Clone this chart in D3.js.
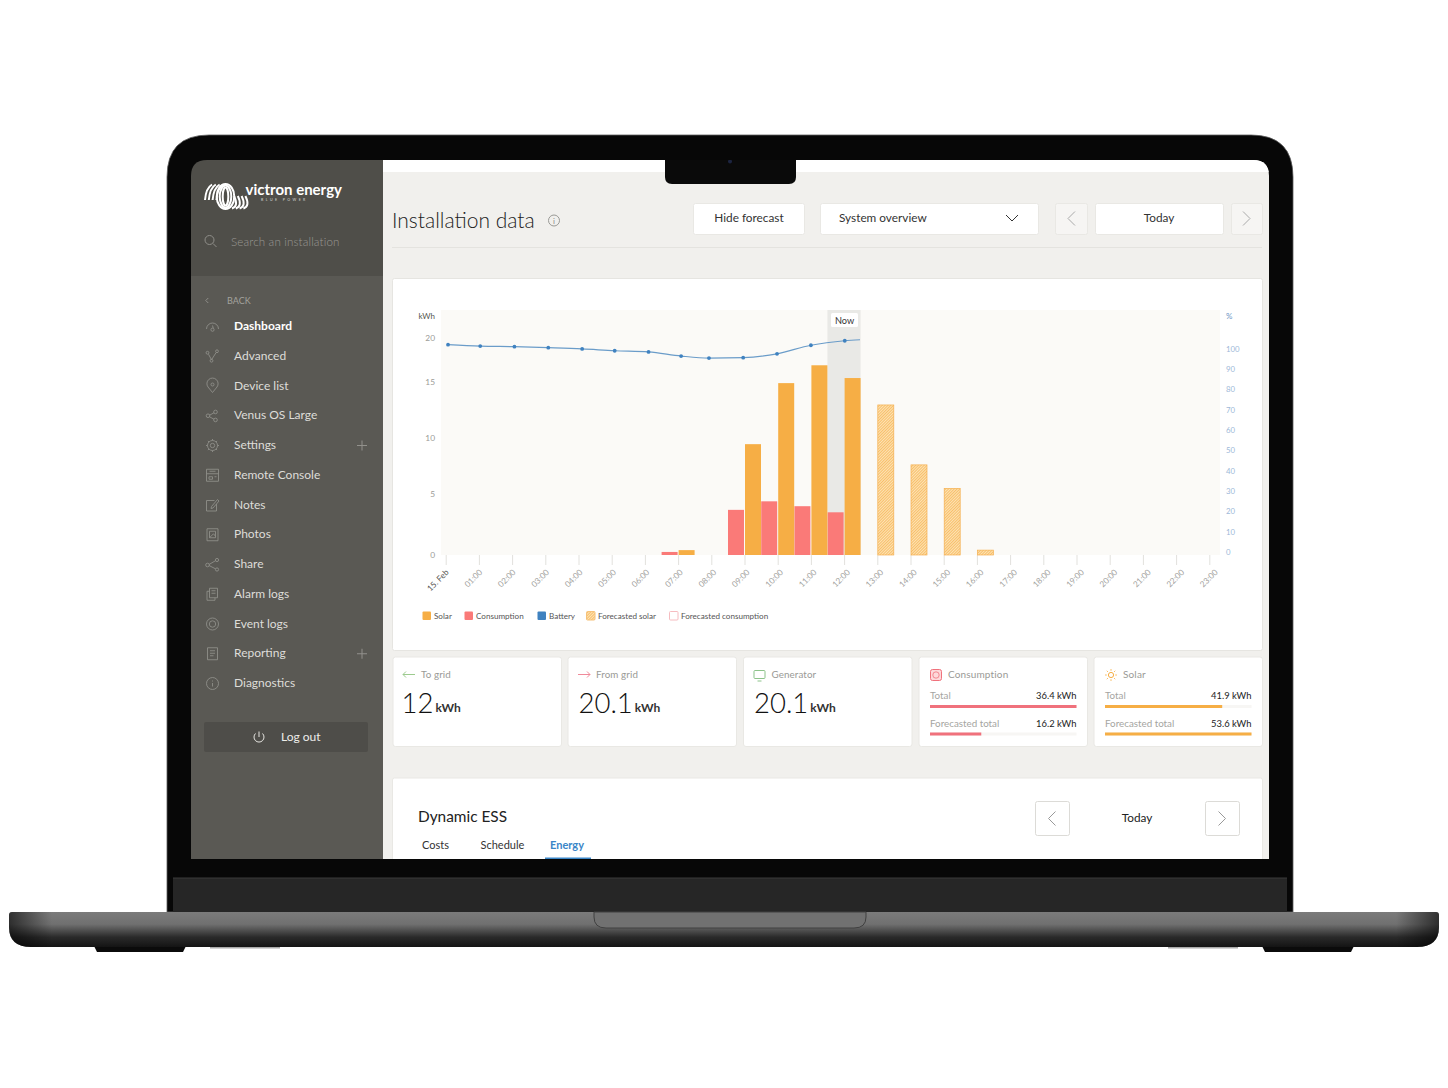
<!DOCTYPE html>
<html>
<head>
<meta charset="utf-8">
<script src="https://cdn.jsdelivr.net/npm/d3@7"></script>
<style>
html, body { margin: 0; padding: 0; background: #fff; }
svg { display: block; font-family: Lato, "Noto Sans", sans-serif; }
</style>
</head>
<body>
<div id="chart"></div>
<script>
// chart values
var hourLabels = ["15. Feb","01:00","02:00","03:00","04:00","05:00","06:00","07:00","08:00","09:00","10:00","11:00","12:00","13:00","14:00","15:00","16:00","17:00","18:00","19:00","20:00","21:00","22:00","23:00"];
var solarKwh       = [0,0,0,0,0,0,0,0.4,0,9.45,14.9,16.9,15.45,0,0,0,0,0,0,0,0,0,0,0];
var consumptionKwh = [0,0,0,0,0,0,0,0.25,0,3.7,4.4,4.0,3.5,0,0,0,0,0,0,0,0,0,0,0];
var forecastSolar  = [0,0,0,0,0,0,0,0,0,0,0,0,0,12.95,7.6,5.5,0.4,0,0,0,0,0,0,0];
var batteryHour = [0.07,1.04,2.07,3.09,4.11,5.09,6.11,7.09,7.93,8.96,9.98,11.0,12.02,12.48];
var batteryPct  = [101.9,101.2,100.9,100.4,99.8,98.9,98.3,96.3,95.3,95.5,97.4,101.6,103.8,104.3];
var kwhTicks = [0,5,10,15,20];
var pctTicks = [0,10,20,30,40,50,60,70,80,90,100];
var nowHour = 12;
var legendLabels = ["Solar","Consumption","Battery","Forecasted solar","Forecasted consumption"];
var menuLabels = ["Dashboard","Advanced","Device list","Venus OS Large","Settings","Remote Console","Notes","Photos","Share","Alarm logs","Event logs","Reporting","Diagnostics"];
var menuWithPlus = ["Settings","Reporting"];
var statLabels = ["To grid","From grid","Generator"];
var statValues = ["12","20.1","20.1"];
var consumptionRows = ["Total","Forecasted total"];
var consumptionTotals = ["36.4 kWh","16.2 kWh"];
var consumptionFill = [100,35];
var solarRows = ["Total","Forecasted total"];
var solarTotals = ["41.9 kWh","53.6 kWh"];
var solarFill = [80,100];
var tabLabels = ["Costs","Schedule","Energy"];

var orange = "#f6ae45", red = "#fa7a78", blue = "#3f82c0";

var svg = d3.select("#chart").append("svg").attr("width", 1448).attr("height", 1088);
var defs = svg.append("defs");

function text(parent, x, y, s, size, color, anchor, weight) {
    return parent.append("text")
        .attr("x", x).attr("y", y)
        .attr("font-size", size)
        .attr("fill", color)
        .attr("text-anchor", anchor || "start")
        .attr("font-weight", weight || 400)
        .text(s);
}
function box(parent, x, y, w, h, fill, stroke, r) {
    return parent.append("rect")
        .attr("x", x).attr("y", y).attr("width", w).attr("height", h)
        .attr("rx", r === undefined ? 2 : r)
        .attr("fill", fill).attr("stroke", stroke || "none");
}
function chevron(parent, cx, cy, dir, color, size) {
    var s = size || 7;
    parent.append("path")
        .attr("d", "M" + (cx - s / 2 * dir) + "," + (cy - s) + "L" + (cx + s / 2 * dir) + "," + cy + "L" + (cx - s / 2 * dir) + "," + (cy + s))
        .attr("fill", "none").attr("stroke", color).attr("stroke-width", 1);
}
function dot(cx, cy, r) {
    return "M" + (cx - r) + "," + cy + "a" + r + "," + r + " 0 1 0 " + (2 * r) + ",0a" + r + "," + r + " 0 1 0 " + (-2 * r) + ",0";
}

// ---- laptop ----
var baseV = defs.append("linearGradient").attr("id", "baseV").attr("x1", 0).attr("x2", 0).attr("y1", 0).attr("y2", 1);
baseV.append("stop").attr("offset", "0").attr("stop-color", "#7b7b7b");
baseV.append("stop").attr("offset", "0.35").attr("stop-color", "#707070");
baseV.append("stop").attr("offset", "0.72").attr("stop-color", "#2a2a2a");
baseV.append("stop").attr("offset", "1").attr("stop-color", "#141414");
var baseH = defs.append("linearGradient").attr("id", "baseH");
baseH.append("stop").attr("offset", "0").attr("stop-color", "#000").attr("stop-opacity", 0.6);
baseH.append("stop").attr("offset", "0.03").attr("stop-color", "#000").attr("stop-opacity", 0);
baseH.append("stop").attr("offset", "0.97").attr("stop-color", "#000").attr("stop-opacity", 0);
baseH.append("stop").attr("offset", "1").attr("stop-color", "#000").attr("stop-opacity", 0.6);

var laptop = svg.append("g");
laptop.append("path")
    .attr("d", "M167,912V177Q167,135 209,135H1251Q1293,135 1293,177V912Z")
    .attr("fill", "#070707").attr("stroke", "#5a5a5a").attr("stroke-width", 0.8);
laptop.append("rect").attr("x", 173).attr("y", 878).attr("width", 1114).attr("height", 34).attr("fill", "#262626");
laptop.append("line").attr("x1", 173).attr("x2", 1287).attr("y1", 878).attr("y2", 878).attr("stroke", "#3a3a3a");

var basePath = "M9,915Q9,912 12,912H1436Q1439,912 1439,915V927Q1439,947 1417,947H31Q9,947 9,927Z";
laptop.append("path").attr("d", "M94,946H186L183,952H97Z").attr("fill", "#0b0b0b");
laptop.append("path").attr("d", "M1262,946H1354L1351,952H1265Z").attr("fill", "#0b0b0b");
laptop.append("rect").attr("x", 210).attr("y", 946).attr("width", 70).attr("height", 2.5).attr("fill", "#aaa");
laptop.append("rect").attr("x", 1168).attr("y", 946).attr("width", 70).attr("height", 2.5).attr("fill", "#aaa");
laptop.append("path").attr("d", basePath).attr("fill", "url(#baseV)");
laptop.append("path").attr("d", basePath).attr("fill", "url(#baseH)");
laptop.append("path").attr("d", "M594,912V917Q594,928 606,928H854Q866,928 866,917V912Z")
    .attr("fill", "#717171").attr("stroke", "#404040").attr("stroke-width", 1);

// ---- screen ----
defs.append("clipPath").attr("id", "screen").append("path")
    .attr("d", "M191,859V176Q191,160 207,160H1253Q1269,160 1269,176V859Z");
var screen = svg.append("g").attr("clip-path", "url(#screen)");
screen.append("rect").attr("x", 383).attr("y", 160).attr("width", 886).attr("height", 699).attr("fill", "#f1f0ed");
screen.append("rect").attr("x", 383).attr("y", 160).attr("width", 886).attr("height", 12).attr("fill", "#fff");

// sidebar
screen.append("rect").attr("x", 191).attr("y", 160).attr("width", 192).attr("height", 116).attr("fill", "#4f4e49");
screen.append("rect").attr("x", 191).attr("y", 276).attr("width", 192).attr("height", 583).attr("fill", "#5a5954");

// logo coil
var logo = screen.append("g").attr("fill", "none").attr("stroke", "#fff").attr("stroke-width", 2);
d3.range(4).forEach(function(i) {
    logo.append("path").attr("d", "M" + (205 + i * 3.8) + ",200Q" + (206 + i * 3.8) + ",188 " + (212 + i * 3.8) + ",184.5");
    logo.append("path").attr("d", "M" + (232 + i * 3.8) + ",208.5Q" + (239 + i * 3.8) + ",206 " + (233.5 + i * 3.8 + 0.5) + ",196");
});
[[225.5, 8.8, 12.5], [225.5, 5.8, 11], [225.5, 2.8, 9]].forEach(function(e) {
    logo.append("ellipse").attr("cx", e[0]).attr("cy", 196.5).attr("rx", e[1]).attr("ry", e[2]);
});
text(screen, 245.5, 195, "victron energy", 15, "#fff", "start", 700);
text(screen, 261, 201, "BLUE POWER", 3.6, "#d8d8d4").attr("letter-spacing", 2.4);

// search
var search = screen.append("g").attr("fill", "none").attr("stroke", "#8f8e89");
search.append("circle").attr("cx", 209.5).attr("cy", 240).attr("r", 4.5);
search.append("line").attr("x1", 213).attr("y1", 243.5).attr("x2", 216.5).attr("y2", 247);
text(screen, 231, 246, "Search an installation", 11.6, "#9a9994", "start", 300).attr("letter-spacing", 0.15);

chevron(screen, 207, 300.5, -1, "#8f8e89", 2.5);
text(screen, 227, 303.5, "BACK", 9, "#a3a29d");

// menu
var menuIcons = [
    "M-6,2.5A6,6 0 1 1 6,2.5M0,-1L0.8,1.8" + dot(0, 3.2, 1.6),
    "M-4,-2L-1,3.5L3.5,-3.5" + dot(-5, -3.5, 1.4) + dot(-1, 4.5, 1.4) + dot(4.5, -5, 1.4),
    "M0,6.5L-4.5,1A5.6,5.6 0 1 1 4.5,1Z" + dot(0, -1.5, 1.5),
    "M-3,-0.5L1.5,-3M-3,1L1.5,3.5" + dot(-4.5, 0, 1.8) + dot(3, -3.8, 1.8) + dot(3, 4.2, 1.8),
    dot(0, 0, 2.2) + dot(0, 0, 5) + "M0,-6.5V-5M0,5V6.5M-6.5,0H-5M5,0H6.5M-4.6,-4.6L-3.5,-3.5M3.5,3.5L4.6,4.6M4.6,-4.6L3.5,-3.5M-3.5,3.5L-4.6,4.6",
    "M-6,-6H6V6H-6ZM-6,-1.5H6M-3,-4H3M-3.5,1.5H0V4H-3.5ZM2,1.5H4",
    "M4,-1V6H-6V-4.5H2M-1,1.5L5,-5.5L6.5,-4L0.5,3L-1.5,3.5Z",
    "M-5.5,-6H5.5V6H-5.5ZM-3,-3.5H3V3H-3ZM-3,3L1,-1L3,1.5",
    "M-3.5,0L3,-3.8M-3.5,1L3,4.3" + dot(-5, 0.5, 1.8) + dot(4.5, -4.5, 1.6) + dot(4.5, 5, 1.6),
    "M-3,-6H5V3.5H-3ZM-3,-3H-5.5V6H2.5V3.5M-1,-3.5H3M-1,-1H3",
    dot(0, 0, 6) + dot(0, 0, 3.2),
    "M-5,-6H5V6H-5ZM-2.5,-3H2.5M-2.5,-0.5H2.5M-2.5,2H1",
    dot(0, 0, 6) + "M0,-0.5V3M0,-3V-2"
];
var menuY = d3.scalePoint().domain(menuLabels).range([326, 683]);
var menu = screen.append("g").selectAll("g").data(menuLabels).join("g")
    .attr("transform", function(d) { return "translate(0," + menuY(d) + ")"; });
menu.append("path")
    .attr("transform", "translate(212.5,0.5)")
    .attr("d", function(d, i) { return menuIcons[i]; })
    .attr("fill", "none").attr("stroke", "#8f8e89").attr("stroke-width", 0.9);
menu.append("text").attr("x", 234).attr("y", 4)
    .attr("font-size", 12)
    .attr("fill", function(d) { return d === "Dashboard" ? "#fff" : "#deddd9"; })
    .attr("font-weight", function(d) { return d === "Dashboard" ? 700 : 400; })
    .text(function(d) { return d; });
menu.filter(function(d) { return menuWithPlus.indexOf(d) >= 0; }).append("path")
    .attr("d", "M357,0.5H367M362,-4.5V5.5").attr("stroke", "#92918c").attr("fill", "none");

box(screen, 204, 722, 164, 30, "#4e4d49", "none", 2);
screen.append("path").attr("d", "M255.5,733.5A5,5 0 1 0 262.5,733.5M259,731.5V737")
    .attr("fill", "none").attr("stroke", "#e6e5e1");
text(screen, 281, 741, "Log out", 12, "#eeeeea");

// header
text(screen, 392, 228, "Installation data", 21, "#222", "start", 300);
screen.append("circle").attr("cx", 554).attr("cy", 220.5).attr("r", 5.5).attr("fill", "none").attr("stroke", "#9a9a96");
text(screen, 554, 223.5, "i", 8, "#8a8a86", "middle");
screen.append("line").attr("x1", 392).attr("x2", 1262).attr("y1", 247.5).attr("y2", 247.5).attr("stroke", "#e4e3df");

box(screen, 693.5, 203.5, 111, 31, "#fff", "#e9e8e4");
text(screen, 749, 222, "Hide forecast", 11.8, "#333", "middle");
box(screen, 820.5, 203.5, 218, 31, "#fff", "#e9e8e4");
text(screen, 839, 222, "System overview", 11.8, "#333");
screen.append("path").attr("d", "M1006,215L1012,221L1018,215").attr("fill", "none").attr("stroke", "#333");
box(screen, 1055.5, 203.5, 32, 31, "#f6f5f3", "#e9e8e4");
chevron(screen, 1071.5, 218.5, -1, "#aaa");
box(screen, 1095.5, 203.5, 128, 31, "#fff", "#e9e8e4");
text(screen, 1159, 222, "Today", 11.8, "#333", "middle");
box(screen, 1231.5, 203.5, 31, 31, "#f6f5f3", "#e9e8e4");
chevron(screen, 1246.5, 218.5, 1, "#aaa");

// notch
screen.append("path").attr("d", "M665,160V177Q665,184 672,184H789Q796,184 796,177V160Z").attr("fill", "#0a0a0a");
screen.append("circle").attr("cx", 730).attr("cy", 161.5).attr("r", 2).attr("fill", "#1c2440");

// ---- chart card ----
box(screen, 392.5, 278.5, 870, 372, "#fff", "#e6e5e1");
var plot = screen.append("g");

var pat = defs.append("pattern").attr("id", "hatch").attr("patternUnits", "userSpaceOnUse")
    .attr("width", 2).attr("height", 2).attr("patternTransform", "rotate(45)");
pat.append("rect").attr("width", 2).attr("height", 2).attr("fill", "#fde3b5");
pat.append("rect").attr("width", 1).attr("height", 2).attr("fill", "#f8bf6a");

var x = d3.scaleLinear().domain([0, 23]).range([445.7, 1209.3]);
var y = d3.scaleLinear().domain(kwhTicks).range([555, 494, 438, 382, 338]);
var yPct = d3.scaleLinear().domain([0, 100]).range([552, 348.5]);
var barW = 16;

plot.append("rect").attr("x", 441).attr("y", 310).attr("width", 779).attr("height", 245).attr("fill", "#fbfaf7");
plot.append("rect").attr("x", x(nowHour) - 16.7).attr("y", 310).attr("width", 33.2).attr("height", 245).attr("fill", "#e9e9e6");

var bottomAxis = d3.axisBottom(x).tickValues(d3.range(24))
    .tickFormat(function(i) { return hourLabels[i]; }).tickSize(10).tickSizeOuter(0);
var gx = plot.append("g").attr("transform", "translate(0,555)").call(bottomAxis);
gx.select(".domain").remove();
gx.selectAll("line").attr("stroke", "#e2e1dd");
gx.selectAll("text")
    .attr("font-family", "Lato, sans-serif").attr("font-size", 8.2)
    .attr("fill", function(d) { return d === 0 ? "#55554f" : "#a3a3a0"; })
    .attr("text-anchor", "end")
    // labels drift a little to the right of their ticks along the axis, as in the picture
    .attr("transform", function(d) { return "translate(" + (1.3 + d * 0.23) + ",16) rotate(-45)"; })
    .attr("dy", "0.32em").attr("y", 0).attr("x", 0);

var leftAxis = d3.axisLeft(y).tickValues(kwhTicks).tickSize(0).tickPadding(0);
var gy = plot.append("g").attr("transform", "translate(435,0)").call(leftAxis);
gy.select(".domain").remove();
gy.selectAll("text").attr("font-family", "Lato, sans-serif").attr("font-size", 8.4).attr("fill", "#9b9b98");
text(plot, 435, 318.5, "kWh", 8, "#55554f", "end");

var rightAxis = d3.axisRight(yPct).tickValues(pctTicks).tickSize(0).tickPadding(0);
var gr = plot.append("g").attr("transform", "translate(1226,0)").call(rightAxis);
gr.select(".domain").remove();
gr.selectAll("text").attr("font-family", "Lato, sans-serif").attr("font-size", 7.8).attr("fill", "#9db8d8");
text(plot, 1226, 318.5, "%", 8, "#6f97c6");

box(plot, 831, 313, 27, 14, "#fff", "none", 1.5);
text(plot, 844.5, 323.5, "Now", 9.2, "#333", "middle");

function bars(cls, values, offset, fill, stroke) {
    plot.append("g").selectAll("rect." + cls)
        .data(hourLabels.map(function(d, i) { return { hour: i, v: values[i] }; }).filter(function(d) { return d.v > 0; }))
        .join("rect")
        .attr("class", cls)
        .attr("x", function(d) { return x(d.hour) + offset; })
        .attr("y", function(d) { return y(d.v); })
        .attr("width", barW)
        .attr("height", function(d) { return y(0) - y(d.v); })
        .attr("fill", fill)
        .attr("stroke", stroke || "none")
        .attr("stroke-width", stroke ? 0.7 : 0);
}
bars("cons", consumptionKwh, -16.5, red);
bars("solar", solarKwh, 0.5, orange);
bars("fcst", forecastSolar, 0.5, "url(#hatch)", "#f5b050");

var line = d3.line()
    .x(function(d) { return x(d[0]); })
    .y(function(d) { return yPct(d[1]); })
    .curve(d3.curveMonotoneX);
var batteryPoints = d3.zip(batteryHour, batteryPct);
plot.append("path").attr("d", line(batteryPoints)).attr("fill", "none").attr("stroke", "#6a9cc9").attr("stroke-width", 1.2);
plot.append("g").selectAll("circle").data(batteryPoints.slice(0, -1)).join("circle")
    .attr("cx", function(d) { return x(d[0]); })
    .attr("cy", function(d) { return yPct(d[1]); })
    .attr("r", 1.9).attr("fill", blue);

// legend
var legendX = [422, 464, 537, 586, 669];
var legendStyle = [[orange, "none"], [red, "none"], [blue, "none"], ["url(#hatch)", "#f6c27a"], ["#fff", "#f6bcc0"]];
legendLabels.forEach(function(s, i) {
    box(plot, legendX[i] + 0.5, 611.5, 8.5, 8.5, legendStyle[i][0], legendStyle[i][1], 1);
    text(plot, legendX[i] + 12, 619, s, 8.1, "#555");
});

// ---- stat cards ----
var cardX = [393, 568, 743.5, 919, 1094];
var cards = screen.append("g");
cardX.forEach(function(cx) { box(cards, cx, 657, 168.5, 89.5, "#fff", "#e9e8e4", 2.5); });

var statIconColor = ["#9ccb8e", "#f08a9a", "#8cc38a"];
statLabels.forEach(function(s, i) {
    var cx = cardX[i];
    if (i < 2) {
        var dir = i === 0 ? -1 : 1;
        var x0 = cx + 10, x1 = cx + 22, tip = dir < 0 ? x0 : x1;
        cards.append("path").attr("d", "M" + x0 + ",674.5H" + x1 + "M" + (tip - 3 * dir) + ",671.5L" + tip + ",674.5L" + (tip - 3 * dir) + ",677.5")
            .attr("fill", "none").attr("stroke", statIconColor[i]);
    } else {
        box(cards, cx + 10.5, 670.5, 11, 8, "none", statIconColor[i], 1);
        cards.append("path").attr("d", "M" + (cx + 14) + ",681H" + (cx + 18)).attr("stroke", statIconColor[i]);
    }
    text(cards, cx + 28, 678, s, 9.8, "#9a9a96").attr("letter-spacing", 0.1);
    var numX = cx + (i === 0 ? 8.5 : 10.5);
    var big = text(cards, numX, 713, statValues[i], 27.5, "#111", "start", 300);
    var w = big.node().getComputedTextLength();
    text(cards, numX + w + 2, 712, "kWh", 12, "#333", "start", 700);
});

var barScale = d3.scaleLinear().domain([0, 100]);
function detailCard(cx, title, rows, totals, fills, color) {
    barScale.range([0, 146.5]);
    text(cards, cx + 29, 678, title, 10, "#9a9a96").attr("letter-spacing", 0.15);
    var rowY = d3.scalePoint().domain(rows).range([699, 726.5]);
    rows.forEach(function(r, i) {
        var yy = rowY(r);
        text(cards, cx + 11, yy, r, 9.8, "#a5a5a1");
        text(cards, cx + 157.5, yy, totals[i], 9.4, "#222", "end");
        cards.append("rect").attr("x", cx + 11).attr("y", yy + 6).attr("width", barScale(100)).attr("height", 3).attr("fill", "#f7f6f4");
        cards.append("rect").attr("x", cx + 11).attr("y", yy + 6).attr("width", barScale(fills[i])).attr("height", 3).attr("fill", color);
    });
}
detailCard(cardX[3], "Consumption", consumptionRows, consumptionTotals, consumptionFill, "#f0717c");
detailCard(cardX[4], "Solar", solarRows, solarTotals, solarFill, orange);
box(cards, 930.5, 669.5, 11, 11, "#fdd9da", "#f0717c", 2);
cards.append("circle").attr("cx", 936).attr("cy", 675).attr("r", 3.2).attr("fill", "none").attr("stroke", "#f0717c").attr("stroke-width", 0.8);
cards.append("circle").attr("cx", 1111).attr("cy", 675).attr("r", 2.6).attr("fill", "none").attr("stroke", orange);
d3.range(8).forEach(function(i) {
    var a = i * Math.PI / 4;
    cards.append("line")
        .attr("x1", 1111 + 4.2 * Math.cos(a)).attr("y1", 675 + 4.2 * Math.sin(a))
        .attr("x2", 1111 + 6 * Math.cos(a)).attr("y2", 675 + 6 * Math.sin(a))
        .attr("stroke", orange).attr("stroke-width", 0.8);
});

// ---- dynamic ess ----
box(screen, 392.5, 778, 870, 100, "#fff", "#e9e8e4");
text(screen, 418, 822, "Dynamic ESS", 15.4, "#222");
box(screen, 1035.5, 801.5, 34, 34, "#fff", "#dcdbd7");
chevron(screen, 1052, 818.5, -1, "#999");
text(screen, 1137, 822, "Today", 11.8, "#222", "middle");
box(screen, 1205.5, 801.5, 34, 34, "#fff", "#dcdbd7");
chevron(screen, 1222, 818.5, 1, "#999");
var tabX = [422, 480.5, 550];
tabLabels.forEach(function(s, i) {
    text(screen, tabX[i], 849, s, 11, i === 2 ? "#3a86c8" : "#333", "start", i === 2 ? 700 : 400);
});
screen.append("rect").attr("x", 545).attr("y", 857.5).attr("width", 46).attr("height", 1.5).attr("fill", "#3a86c8");
</script>
</body>
</html>
